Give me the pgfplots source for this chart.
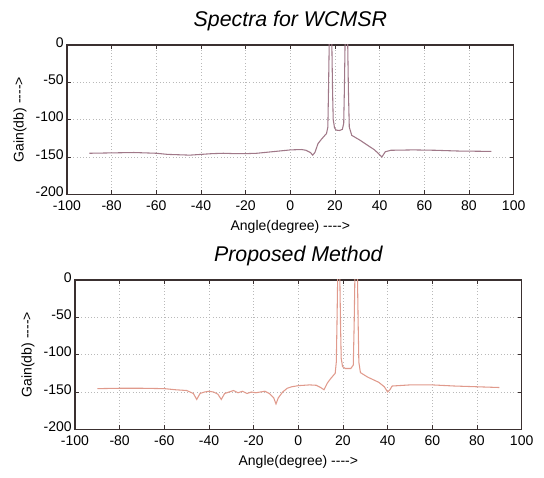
\documentclass[border=0pt]{standalone}
\usepackage{fontspec}
\setmainfont{Liberation Sans}
\usepackage{pgfplots}
\pgfplotsset{compat=1.18}

\definecolor{frame}{HTML}{3A3030}
\definecolor{wcmsr}{HTML}{A07888}
\definecolor{prop}{HTML}{E09A8C}

\pgfplotsset{
  matlab/.style={
    scale only axis,
    width=335pt, height=112pt,
    xmin=-100, xmax=100, ymin=-200, ymax=0,
    xtick={-100,-80,...,100}, ytick={-200,-150,...,0},
    /pgf/number format/assume math mode=true,
    tick label style={font=\fontsize{10.5}{12}\selectfont},
    xticklabel style={yshift=-1.5pt},
    yticklabel style={yshift=2pt, xshift=1pt},
    label style={font=\fontsize{10.5}{12}\selectfont},
    title style={font=\fontsize{16}{18}\selectfont\itshape, yshift=1pt},
    tick align=inside, major tick length=3pt,
    tick style={frame, line width=0.6pt},
    axis line style={frame, line width=0.9pt},
    grid=major, grid style={dotted, gray!55, line width=0.6pt},
    xlabel={Angle(degree) -{}-{}-{}-{}>},
    ylabel={Gain(db) -{}-{}-{}-{}>},
    clip=true,
  }
}

\begin{document}
\begin{tikzpicture}
\useasboundingbox (0,0) rectangle (408pt,-358.5pt);

\begin{axis}[matlab, at={(50.25pt,-33.75pt)}, anchor=north west,
  title={Spectra for WCMSR}]
\addplot[wcmsr, line width=0.8pt] coordinates {
(-90,-145) (-80,-144.5) (-70,-144) (-60,-145) (-55,-146.5) (-50,-147)
(-45,-147.5) (-40,-146.5) (-35,-145.5) (-30,-145) (-25,-145.5) (-20,-145.5)
(-15,-145) (-10,-143.5) (-5,-142) (0,-140.5) (5,-140) (7,-141) (9,-144)
(10,-147.5) (11,-144) (12.4,-132) (14,-126) (16.2,-118.5) (16.8,-110)
(17.1,-60) (17.4,0) (17.6,20) (18.4,20) (18.6,0) (18.9,-60) (19.2,-100)
(19.8,-111) (20.5,-114) (22,-114.5) (23.3,-113) (23.9,-105) (24.2,-60)
(24.5,0) (24.7,20) (25.5,20) (25.7,0) (26,-60) (26.4,-110) (27.5,-121)
(31.2,-127.5) (35.7,-136.5) (37.5,-140) (39.5,-145.4) (41,-150)
(42.5,-143) (45,-141) (55,-140.5) (65,-141) (75,-142) (90,-142.5)
};
\end{axis}

\begin{axis}[matlab, at={(56.25pt,-210pt)}, anchor=north west,
  title={Proposed Method}]
\addplot[prop, line width=0.8pt] coordinates {
(-90,-145.5) (-80,-145) (-70,-145) (-60,-145.5) (-55,-147) (-50,-148)
(-47,-152) (-45.5,-160) (-44,-152) (-42,-150) (-40,-149) (-38,-150)
(-36,-153) (-34.5,-160) (-33,-152) (-31,-150) (-29,-148) (-27,-151)
(-25,-149) (-23,-152) (-21,-150) (-19,-151) (-17,-150) (-15,-149)
(-13,-152) (-11,-158) (-10,-166) (-9,-158) (-7,-150) (-5,-145) (-3,-143)
(0,-141.5) (5,-140.5) (8,-141) (10,-144) (11.5,-147) (13,-138)
(14.5,-132) (16.5,-125) (17,-110) (17.3,-60) (17.6,0) (17.8,20)
(18.4,20) (18.6,0) (18.9,-60) (19.2,-105) (19.8,-116) (21,-118.5)
(23.5,-118.5) (24.6,-114) (25,-60) (25.3,0) (25.5,20) (26.3,20)
(26.5,0) (26.8,-60) (27.1,-110) (27.8,-124) (31,-130) (36,-137)
(38.5,-143) (40,-150) (41,-147) (42,-142) (50,-140.5) (60,-140.5)
(70,-142) (80,-143) (90,-144)
};
\end{axis}
\end{tikzpicture}
\end{document}
